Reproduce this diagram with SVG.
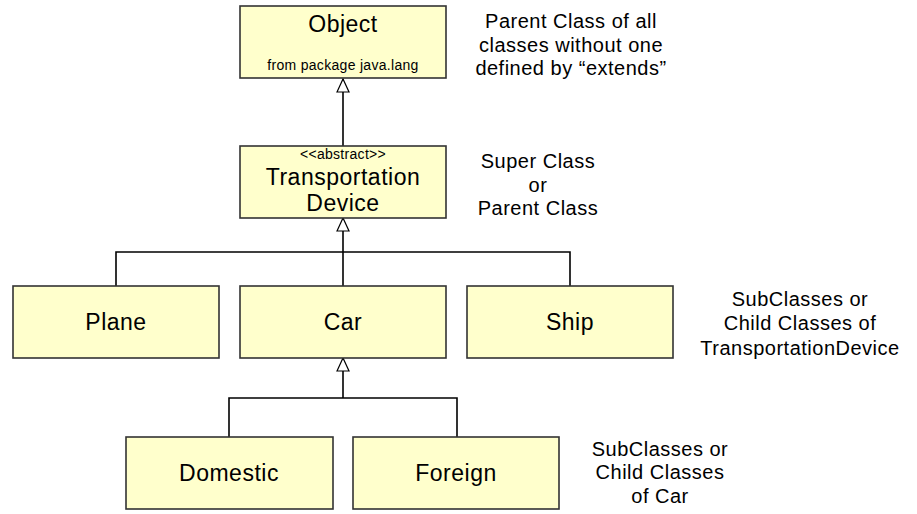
<svg xmlns="http://www.w3.org/2000/svg" width="917" height="514" viewBox="0 0 917 514">
<style>
.box{fill:#ffffcc;stroke:#333;stroke-width:1.6}
.t{font-family:"Liberation Sans",Arial,sans-serif;fill:#000;text-anchor:middle}
.big{font-size:23px;letter-spacing:0.5px}
.sm{font-size:14px;letter-spacing:0.3px}
.note{font-size:20px;letter-spacing:0.5px}
.ln{fill:none;stroke:#000;stroke-width:1.6}
</style>
<defs>
<marker id="tri" markerWidth="16" markerHeight="14" refX="14" refY="7" orient="auto" markerUnits="userSpaceOnUse">
<path d="M1,1 L14,7 L1,13 Z" fill="#fff" stroke="#000" stroke-width="1.2"/>
</marker>
</defs>
<rect width="917" height="514" fill="#fff"/>
<g id="connectors">
<path class="ln" d="M343,146 L343,79" marker-end="url(#tri)"/>
<path class="ln" d="M343,286 L343,218" marker-end="url(#tri)"/>
<path class="ln" d="M116,286 L116,252 L570,252 L570,286"/>
<path class="ln" d="M343,398 L343,358" marker-end="url(#tri)"/>
<path class="ln" d="M229,437 L229,398 L457,398 L457,437"/>
</g>
<g id="object">
<rect class="box" x="240" y="6" width="206" height="72"/>
<text class="t big" x="343" y="32">Object</text>
<text class="t sm" x="343" y="70">from package java.lang</text>
</g>
<g id="transportation-device">
<rect class="box" x="240" y="146" width="206" height="72"/>
<text class="t sm" x="343" y="159">&lt;&lt;abstract&gt;&gt;</text>
<text class="t big" x="343" y="185">Transportation</text>
<text class="t big" x="343" y="211">Device</text>
</g>
<g id="plane">
<rect class="box" x="13" y="286" width="206" height="72"/>
<text class="t big" x="116" y="330">Plane</text>
</g>
<g id="car">
<rect class="box" x="240" y="286" width="206" height="72"/>
<text class="t big" x="343" y="330">Car</text>
</g>
<g id="ship">
<rect class="box" x="467" y="286" width="206" height="72"/>
<text class="t big" x="570" y="330">Ship</text>
</g>
<g id="domestic">
<rect class="box" x="126" y="437" width="207" height="72"/>
<text class="t big" x="229" y="481">Domestic</text>
</g>
<g id="foreign">
<rect class="box" x="353" y="437" width="206" height="72"/>
<text class="t big" x="456" y="481">Foreign</text>
</g>
<g id="notes">
<text class="t note" x="571" y="28">Parent Class of all</text>
<text class="t note" x="571" y="52">classes without one</text>
<text class="t note" x="571" y="75">defined by “extends”</text>
<text class="t note" x="538" y="168">Super Class</text>
<text class="t note" x="538" y="192">or</text>
<text class="t note" x="538" y="215">Parent Class</text>
<text class="t note" x="800" y="306">SubClasses or</text>
<text class="t note" x="800" y="330">Child Classes of</text>
<text class="t note" x="800" y="355">TransportationDevice</text>
<text class="t note" x="660" y="456">SubClasses or</text>
<text class="t note" x="660" y="479">Child Classes</text>
<text class="t note" x="660" y="503">of Car</text>
</g>
</svg>
